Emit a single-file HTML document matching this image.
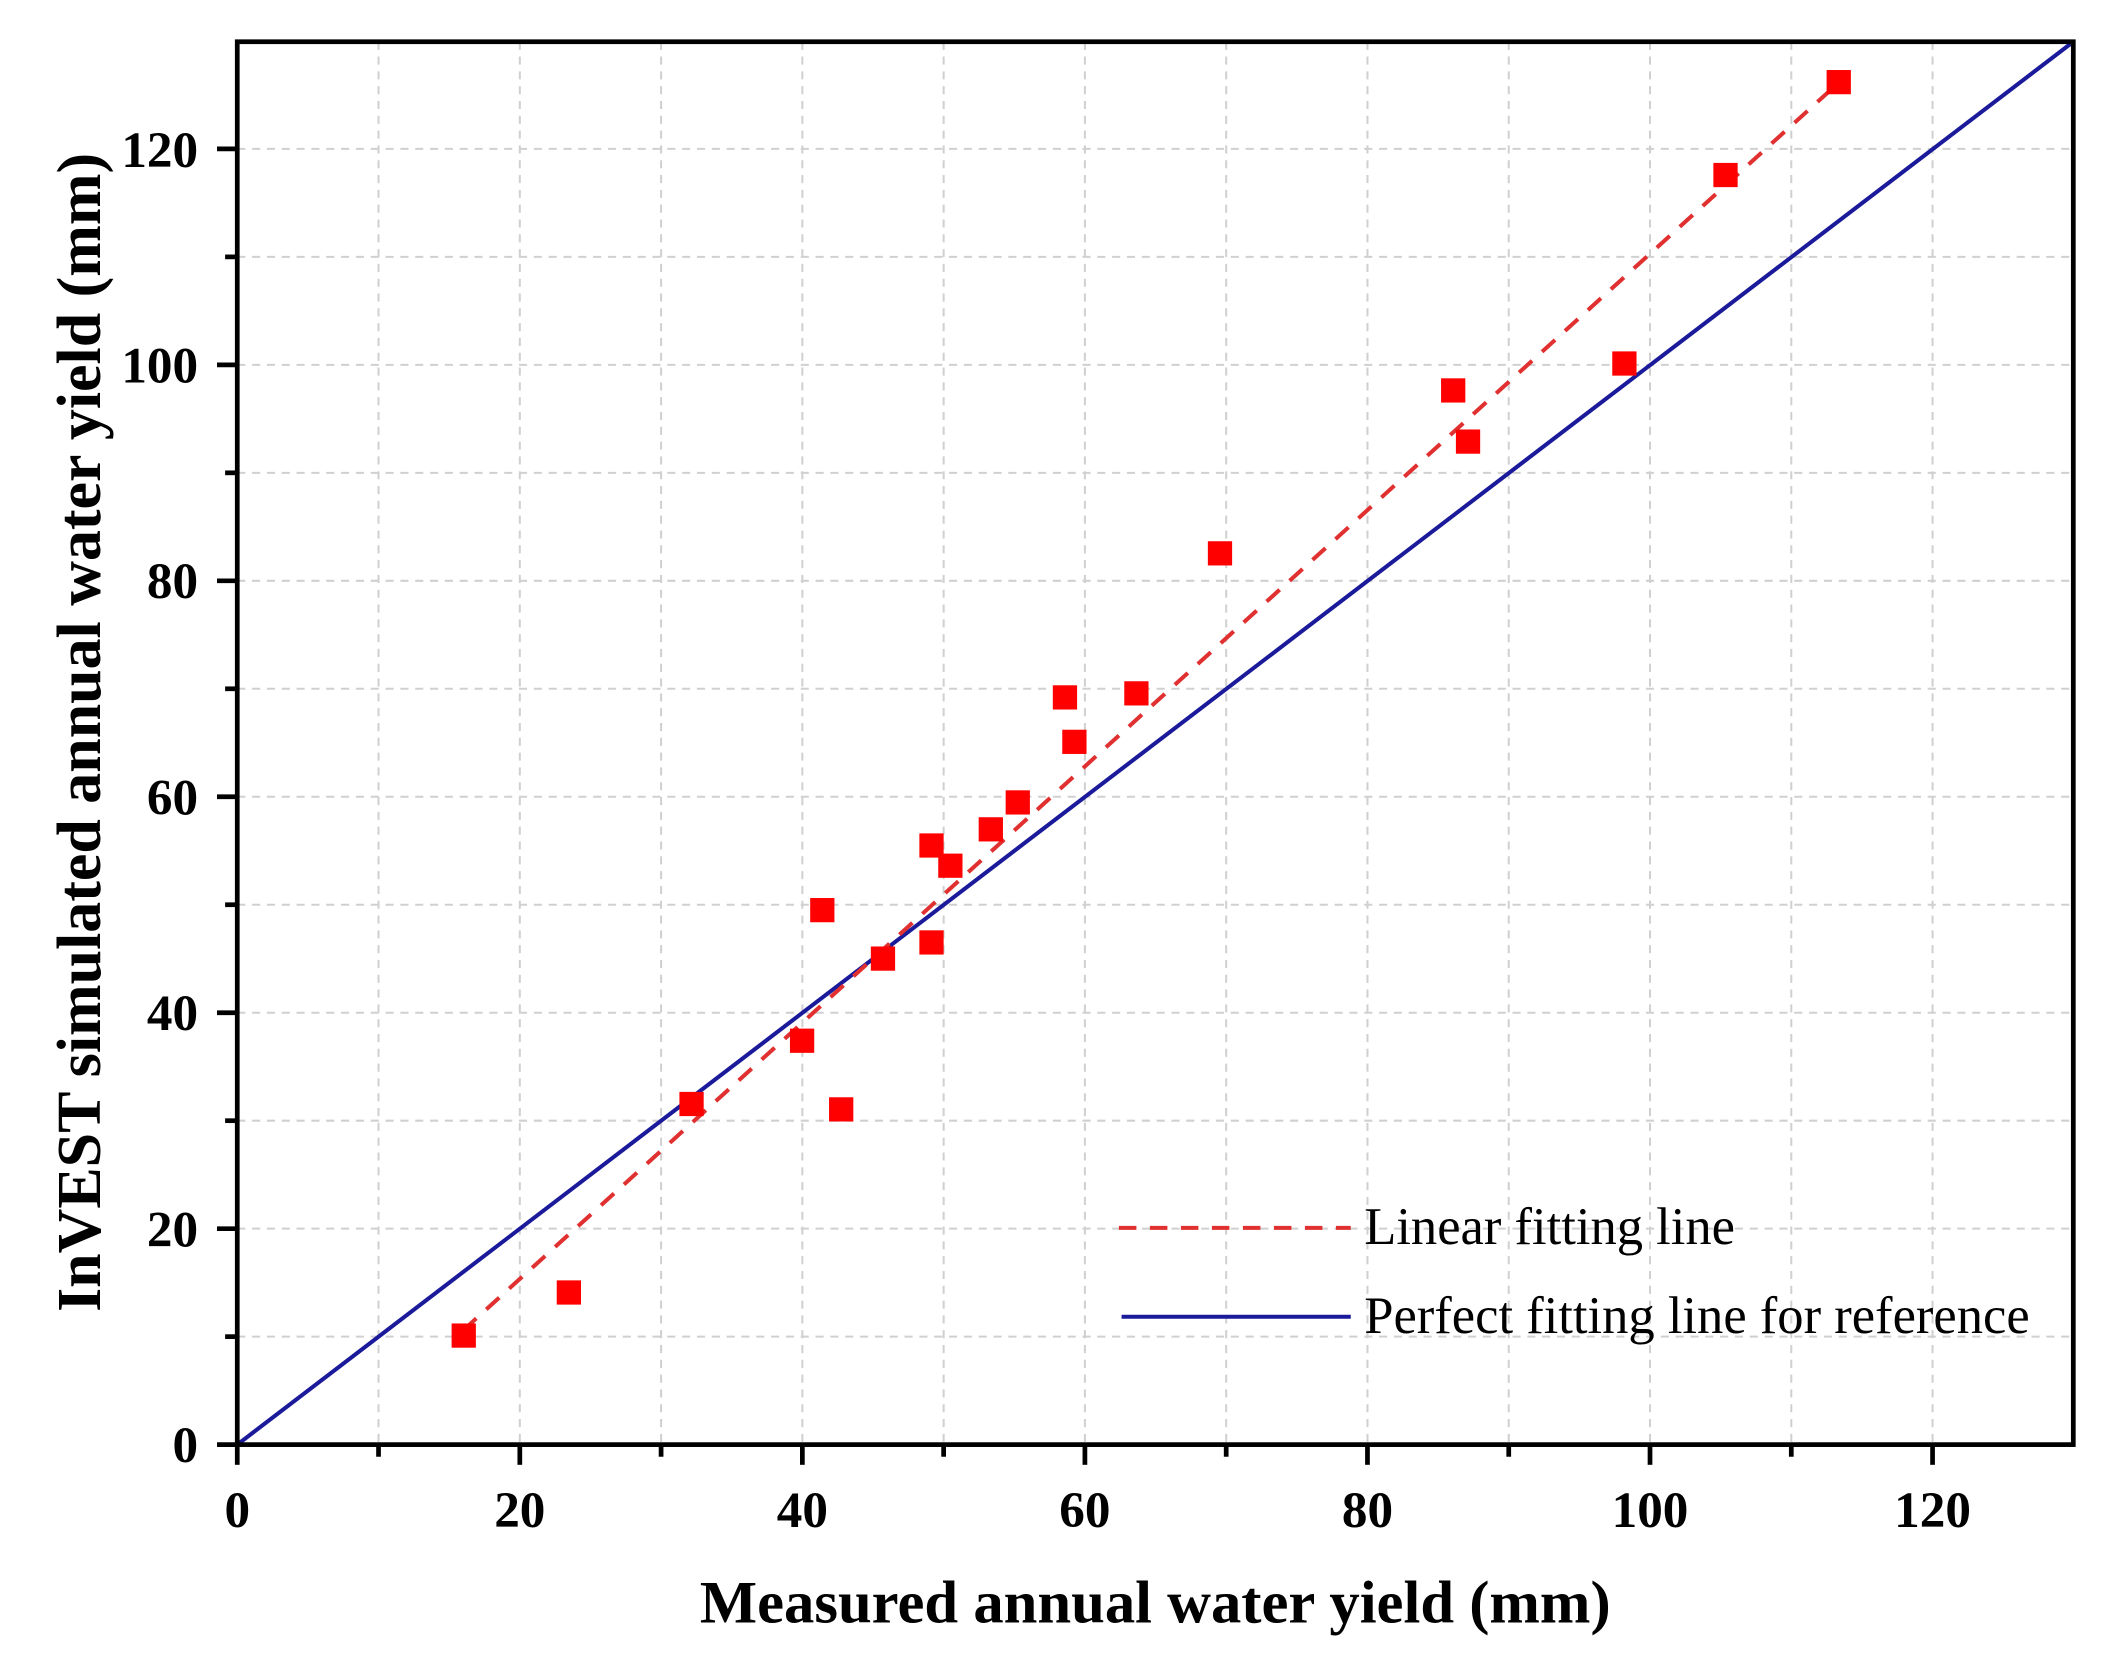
<!DOCTYPE html>
<html><head><meta charset="utf-8"><style>html,body{margin:0;padding:0;background:#fff}svg{display:block}</style></head>
<body>
<svg width="2107" height="1656" viewBox="0 0 1563 1230" preserveAspectRatio="none" xmlns="http://www.w3.org/2000/svg" font-family="'Liberation Serif',serif">
<rect width="1563" height="1230" fill="#fff"/>
<g stroke="#d0d0d0" stroke-width="1.5" stroke-dasharray="6,5">
<line x1="280.8" y1="31" x2="280.8" y2="1073"/><line x1="385.6" y1="31" x2="385.6" y2="1073"/><line x1="490.4" y1="31" x2="490.4" y2="1073"/><line x1="595.2" y1="31" x2="595.2" y2="1073"/><line x1="700" y1="31" x2="700" y2="1073"/><line x1="804.8" y1="31" x2="804.8" y2="1073"/><line x1="909.6" y1="31" x2="909.6" y2="1073"/><line x1="1014.4" y1="31" x2="1014.4" y2="1073"/><line x1="1119.2" y1="31" x2="1119.2" y2="1073"/><line x1="1224" y1="31" x2="1224" y2="1073"/><line x1="1328.8" y1="31" x2="1328.8" y2="1073"/><line x1="1433.6" y1="31" x2="1433.6" y2="1073"/>
<line x1="176" y1="992.8" x2="1538" y2="992.8"/><line x1="176" y1="912.6" x2="1538" y2="912.6"/><line x1="176" y1="832.4" x2="1538" y2="832.4"/><line x1="176" y1="752.2" x2="1538" y2="752.2"/><line x1="176" y1="672" x2="1538" y2="672"/><line x1="176" y1="591.8" x2="1538" y2="591.8"/><line x1="176" y1="511.6" x2="1538" y2="511.6"/><line x1="176" y1="431.4" x2="1538" y2="431.4"/><line x1="176" y1="351.2" x2="1538" y2="351.2"/><line x1="176" y1="271" x2="1538" y2="271"/><line x1="176" y1="190.8" x2="1538" y2="190.8"/><line x1="176" y1="110.6" x2="1538" y2="110.6"/>
</g>
<line x1="176" y1="1073" x2="1538" y2="31" stroke="#1a1a9a" stroke-width="3"/>
<line x1="343.7" y1="988" x2="1363.3" y2="62" stroke="#e03030" stroke-width="3" stroke-dasharray="13,10"/>
<g fill="#ff0000" transform="translate(-1,-1)">
<rect x="336" y="984" width="18" height="18"/><rect x="414" y="952" width="18" height="18"/><rect x="505" y="812" width="18" height="18"/><rect x="587" y="765" width="18" height="18"/><rect x="602" y="668" width="18" height="18"/><rect x="616" y="816" width="18" height="18"/><rect x="647" y="704" width="18" height="18"/><rect x="683" y="620" width="18" height="18"/><rect x="683" y="692" width="18" height="18"/><rect x="697" y="635" width="18" height="18"/><rect x="727" y="608" width="18" height="18"/><rect x="747" y="588" width="18" height="18"/><rect x="782" y="510" width="18" height="18"/><rect x="789" y="543" width="18" height="18"/><rect x="835" y="507" width="18" height="18"/><rect x="897" y="403" width="18" height="18"/><rect x="1070" y="282" width="18" height="18"/><rect x="1081" y="320" width="18" height="18"/><rect x="1197" y="262" width="18" height="18"/><rect x="1272" y="122" width="18" height="18"/><rect x="1356" y="53" width="18" height="18"/>
</g>
<rect x="176" y="31" width="1362" height="1042" fill="none" stroke="#000" stroke-width="3.5"/>
<g stroke="#000" stroke-width="3.5">
<line x1="176" y1="1073" x2="176" y2="1088"/><line x1="280.8" y1="1073" x2="280.8" y2="1082"/><line x1="385.6" y1="1073" x2="385.6" y2="1088"/><line x1="490.4" y1="1073" x2="490.4" y2="1082"/><line x1="595.2" y1="1073" x2="595.2" y2="1088"/><line x1="700" y1="1073" x2="700" y2="1082"/><line x1="804.8" y1="1073" x2="804.8" y2="1088"/><line x1="909.6" y1="1073" x2="909.6" y2="1082"/><line x1="1014.4" y1="1073" x2="1014.4" y2="1088"/><line x1="1119.2" y1="1073" x2="1119.2" y2="1082"/><line x1="1224" y1="1073" x2="1224" y2="1088"/><line x1="1328.8" y1="1073" x2="1328.8" y2="1082"/><line x1="1433.6" y1="1073" x2="1433.6" y2="1088"/>
<line x1="161" y1="1073" x2="176" y2="1073"/><line x1="167" y1="992.8" x2="176" y2="992.8"/><line x1="161" y1="912.6" x2="176" y2="912.6"/><line x1="167" y1="832.4" x2="176" y2="832.4"/><line x1="161" y1="752.2" x2="176" y2="752.2"/><line x1="167" y1="672" x2="176" y2="672"/><line x1="161" y1="591.8" x2="176" y2="591.8"/><line x1="167" y1="511.6" x2="176" y2="511.6"/><line x1="161" y1="431.4" x2="176" y2="431.4"/><line x1="167" y1="351.2" x2="176" y2="351.2"/><line x1="161" y1="271" x2="176" y2="271"/><line x1="167" y1="190.8" x2="176" y2="190.8"/><line x1="161" y1="110.6" x2="176" y2="110.6"/>
</g>
<g font-size="38" font-weight="bold" text-anchor="middle">
<text x="176" y="1134">0</text><text x="385.6" y="1134">20</text><text x="595.2" y="1134">40</text><text x="804.8" y="1134">60</text><text x="1014.4" y="1134">80</text><text x="1224" y="1134">100</text><text x="1433.6" y="1134">120</text>
</g>
<g font-size="38" font-weight="bold" text-anchor="end">
<text x="147" y="1086">0</text><text x="147" y="926">20</text><text x="147" y="765">40</text><text x="147" y="605">60</text><text x="147" y="444">80</text><text x="147" y="284">100</text><text x="147" y="124">120</text>
</g>
<text x="857" y="1205" font-size="45" font-weight="bold" text-anchor="middle">Measured annual water yield (mm)</text>
<text transform="translate(74,544) rotate(-90)" font-size="46" font-weight="bold" text-anchor="middle">InVEST simulated annual water yield (mm)</text>
<line x1="830" y1="912" x2="1002" y2="912" stroke="#e03030" stroke-width="3" stroke-dasharray="13,10"/>
<text x="1012" y="924" font-size="39">Linear fitting line</text>
<line x1="832" y1="978" x2="1002" y2="978" stroke="#1a1a9a" stroke-width="3"/>
<text x="1012" y="990" font-size="39">Perfect fitting line for reference</text>
</svg>
</body></html>
